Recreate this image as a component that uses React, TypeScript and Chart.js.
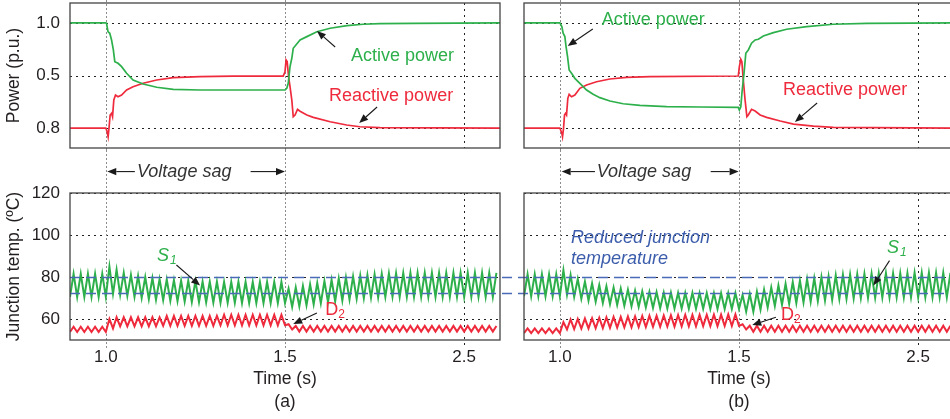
import React, { useEffect, useRef } from 'react';
import { Chart, registerables } from 'chart.js';

Chart.register(...registerables);

// ---------------- axes ----------------
const X_MIN = 0.9;
const X_MAX = 2.1;
const X_TICKS = [1.0, 1.5, 2.0];
const X_TICK_LABELS = ['1.0', '1.5', '2.5'];
const SAG_TIMES = [1.0, 1.5];

const POWER_MIN = -0.19;
const POWER_MAX = 1.19;
const POWER_TICKS = [0, 0.5, 1.0];
const POWER_TICK_LABELS = ['0.8', '0.5', '1.0'];

const TEMP_MIN = 50;
const TEMP_MAX = 120;
const TEMP_TICKS = [60, 80, 100, 120];
const TEMP_TICK_LABELS = ['60', '80', '100', '120'];
const REF_LEVELS = [80, 72.5];

// ---------------- power, case (a) ----------------
const ACTIVE_A_T = [0.9, 1.0, 1.002, 1.006, 1.011, 1.016, 1.021, 1.025, 1.034, 1.044, 1.058, 1.076, 1.104, 1.142, 1.188, 1.263, 1.5, 1.505, 1.509, 1.514, 1.519, 1.523, 1.542, 1.561, 1.589, 1.626, 1.673, 1.718, 1.765, 1.858, 2.1];
const ACTIVE_A_V = [1.0, 1.0, 0.997, 0.917, 0.902, 0.838, 0.743, 0.632, 0.616, 0.584, 0.521, 0.457, 0.419, 0.388, 0.368, 0.362, 0.362, 0.378, 0.426, 0.584, 0.664, 0.759, 0.838, 0.87, 0.917, 0.95, 0.974, 0.988, 0.993, 0.997, 1.0];
const REACTIVE_A_T = [0.9, 1.0, 1.0036, 1.0064, 1.0092, 1.012, 1.016, 1.0187, 1.0223, 1.027, 1.034, 1.044, 1.058, 1.076, 1.104, 1.142, 1.188, 1.263, 1.356, 1.495, 1.5, 1.503, 1.506, 1.51, 1.514, 1.519, 1.523, 1.528, 1.535, 1.542, 1.561, 1.579, 1.626, 1.672, 1.709, 1.765, 2.1];
const REACTIVE_A_V = [0, 0, -0.035, -0.083, 0.012, 0.124, 0.14, 0.108, 0.267, 0.314, 0.298, 0.314, 0.362, 0.393, 0.426, 0.457, 0.479, 0.489, 0.495, 0.495, 0.536, 0.648, 0.632, 0.489, 0.393, 0.267, 0.108, 0.124, 0.178, 0.16, 0.124, 0.102, 0.06, 0.029, 0.012, 0.003, 0];

// ---------------- power, case (b) ----------------
const ACTIVE_B_T = [0.9, 1.0, 1.0056, 1.0092, 1.014, 1.0168, 1.0215, 1.026, 1.0327, 1.0419, 1.0559, 1.0746, 1.093, 1.1117, 1.1397, 1.1768, 1.2235, 1.298, 1.391, 1.498, 1.501, 1.505, 1.509, 1.514, 1.519, 1.526, 1.535, 1.545, 1.554, 1.568, 1.596, 1.633, 1.689, 1.763, 1.857, 2.1];
const ACTIVE_B_V = [1.0, 1.0, 0.965, 0.902, 0.87, 0.79, 0.679, 0.552, 0.521, 0.473, 0.426, 0.362, 0.321, 0.289, 0.257, 0.231, 0.216, 0.203, 0.2, 0.197, 0.171, 0.203, 0.362, 0.521, 0.711, 0.743, 0.807, 0.838, 0.845, 0.876, 0.908, 0.94, 0.965, 0.988, 0.997, 1.0];
const REACTIVE_B_T = [0.9, 1.0, 1.0056, 1.0075, 1.0103, 1.0131, 1.0159, 1.0187, 1.0223, 1.026, 1.0327, 1.0419, 1.0559, 1.0746, 1.1025, 1.1397, 1.1863, 1.2514, 1.498, 1.501, 1.505, 1.508, 1.512, 1.517, 1.522, 1.526, 1.535, 1.545, 1.559, 1.577, 1.615, 1.652, 1.708, 1.763, 2.1];
const REACTIVE_B_V = [0, 0, -0.05, -0.083, -0.003, 0.124, 0.14, 0.124, 0.283, 0.321, 0.298, 0.314, 0.378, 0.41, 0.441, 0.467, 0.483, 0.489, 0.495, 0.584, 0.654, 0.632, 0.457, 0.267, 0.108, 0.124, 0.178, 0.162, 0.124, 0.102, 0.067, 0.038, 0.019, 0.006, 0];

// ---------------- junction temperature, one trough & peak per 20 ms cycle ----------------
const CYCLE_START = 0.9;
const CYCLE_PERIOD = 0.02;

const S1_A_PEAK = [
  81.5, 81.5, 81.5, 81.5, 81.5, 85.0, 83.5, 82.0, 81.0, 80.5,
  80.0, 79.5, 79.0, 78.8, 78.5, 78.3, 78.2, 78.0, 77.8, 77.8,
  77.8, 77.7, 77.7, 77.7, 77.6, 77.6, 77.6, 77.6, 77.6, 77.6,
  74.5, 75.0, 75.8, 76.5, 77.2, 78.0, 78.7, 79.3, 79.8, 80.3,
  80.7, 81.0, 81.3, 81.5, 81.7, 81.8, 81.9, 82.0, 82.0, 82.0,
  82.0, 82.0, 82.0, 82.0, 82.0, 82.0, 82.0, 82.0, 82.0, 82.0,
];
const S1_A_TROUGH = [
  70.5, 70.5, 70.5, 70.5, 70.5, 70.5, 72.0, 71.5, 71.0, 70.5,
  70.0, 69.5, 69.2, 69.0, 68.7, 68.5, 68.3, 68.1, 68.0, 67.9,
  67.8, 67.7, 67.7, 67.7, 67.6, 67.6, 67.6, 67.6, 67.6, 67.6,
  67.6, 65.8, 66.0, 66.5, 67.0, 67.5, 68.0, 68.4, 68.8, 69.2,
  69.6, 69.9, 70.1, 70.3, 70.5, 70.5, 70.5, 70.5, 70.5, 70.5,
  70.5, 70.5, 70.5, 70.5, 70.5, 70.5, 70.5, 70.5, 70.5, 70.5,
];
const D2_A_PEAK = [
  56.3, 56.3, 56.3, 56.3, 56.3, 60.0, 60.8, 60.8, 60.8, 60.8,
  60.8, 60.8, 60.8, 61.5, 61.5, 61.5, 61.5, 61.5, 61.5, 61.5,
  61.5, 62.0, 62.0, 62.0, 62.0, 62.0, 62.0, 62.0, 62.0, 62.0,
  57.5, 56.7, 56.7, 56.7, 56.7, 56.7, 56.7, 56.7, 56.7, 56.7,
  56.7, 56.7, 56.7, 56.7, 56.7, 56.7, 56.7, 56.7, 56.7, 56.7,
  56.7, 56.7, 56.7, 56.7, 56.7, 56.7, 56.7, 56.7, 56.7, 56.7,
];
const D2_A_TROUGH = [
  53.8, 53.8, 53.8, 53.8, 53.8, 53.8, 55.5, 56.5, 56.5, 56.5,
  56.5, 56.5, 56.5, 56.8, 56.8, 56.8, 56.8, 56.8, 56.8, 56.8,
  56.8, 57.0, 57.0, 57.0, 57.0, 57.0, 57.0, 57.0, 57.0, 57.0,
  57.0, 55.0, 54.0, 54.0, 54.0, 54.0, 54.0, 54.0, 54.0, 54.0,
  54.0, 54.0, 54.0, 54.0, 54.0, 54.0, 54.0, 54.0, 54.0, 54.0,
  54.0, 54.0, 54.0, 54.0, 54.0, 54.0, 54.0, 54.0, 54.0, 54.0,
];
const S1_B_PEAK = [
  81.3, 81.3, 81.3, 81.3, 81.3, 83.3, 81.0, 79.0, 77.8, 77.0,
  76.2, 75.6, 75.0, 74.5, 74.0, 73.5, 73.2, 73.0, 72.8, 72.6,
  72.6, 72.5, 72.5, 72.5, 72.4, 72.4, 72.4, 72.4, 72.4, 72.4,
  71.5, 72.0, 73.0, 74.0, 75.0, 76.0, 76.8, 77.6, 78.3, 79.0,
  79.5, 80.0, 80.4, 80.8, 81.1, 81.3, 81.4, 81.5, 81.6, 81.7,
  81.8, 81.8, 81.9, 81.9, 82.0, 82.0, 82.0, 82.0, 82.0, 82.0,
];
const S1_B_TROUGH = [
  70.8, 70.8, 70.8, 70.8, 70.8, 70.8, 71.5, 70.5, 69.6, 68.8,
  68.2, 67.6, 67.1, 66.7, 66.3, 66.0, 65.7, 65.5, 65.3, 65.1,
  65.0, 65.0, 65.0, 64.9, 64.9, 64.9, 64.8, 64.8, 64.8, 64.8,
  64.8, 63.5, 63.5, 64.5, 65.5, 66.2, 66.8, 67.2, 67.6, 67.9,
  68.2, 68.5, 68.8, 69.1, 69.4, 69.6, 69.8, 69.9, 70.0, 70.1,
  70.2, 70.2, 70.3, 70.3, 70.3, 70.3, 70.3, 70.3, 70.3, 70.3,
];
const D2_B_PEAK = [
  55.5, 55.5, 55.5, 55.5, 55.5, 58.5, 59.8, 60.0, 60.2, 60.4,
  60.6, 60.8, 61.0, 61.0, 61.2, 61.2, 61.4, 61.5, 61.6, 61.7,
  61.8, 61.9, 62.0, 62.0, 62.0, 62.0, 62.1, 62.1, 62.2, 62.2,
  57.5, 56.8, 56.8, 56.8, 56.8, 56.8, 56.8, 56.8, 56.8, 56.8,
  56.8, 56.8, 56.8, 56.8, 56.8, 56.8, 56.8, 56.8, 56.8, 56.8,
  56.8, 56.8, 56.8, 56.8, 56.8, 56.8, 56.8, 56.8, 56.8, 56.8,
];
const D2_B_TROUGH = [
  53.3, 53.3, 53.3, 53.3, 53.3, 53.3, 55.0, 55.2, 55.4, 55.5,
  55.6, 55.7, 55.8, 55.9, 56.0, 56.0, 56.2, 56.2, 56.3, 56.3,
  56.4, 56.4, 56.5, 56.5, 56.5, 56.6, 56.6, 56.6, 56.7, 56.7,
  56.7, 55.0, 53.9, 53.9, 53.9, 53.9, 53.9, 53.9, 53.9, 53.9,
  53.9, 53.9, 53.9, 53.9, 53.9, 53.9, 53.9, 53.9, 53.9, 53.9,
  53.9, 53.9, 53.9, 53.9, 53.9, 53.9, 53.9, 53.9, 53.9, 53.9,
];

// ---------------- styles & layout ----------------
const FONT = "'Liberation Sans', Arial, Helvetica, sans-serif";
const TEXT = '#231f20';
const GREEN = '#2db04b';
const RED = '#ee2a3c';
const BLUE_LINE = '#4a6cb8';
const BLUE_TEXT = '#3c5dab';
const GRID = '#222222';
const SAG_GRAY = '#8c8c8c';
const BORDER = '#444444';

const PAGE_W = 950;
const PAGE_H = 419;
const A_LEFT = 0;
const A_W = 501;
const B_LEFT = 501;
const B_W = 453;
const TOP_H = 150;
const BOT_TOP = 150;
const BOT_H = 269;
const A_PLOT_LEFT = 70;

type Part = { text: string; size: number; italic?: boolean; dy?: number };
type Note =
  | { kind: 'text'; x: number; y: number; color: string; parts: Part[] }
  | { kind: 'arrow'; x1: number; y1: number; x2: number; y2: number };

const t = (text: string, size = 18, italic = false, dy = 0): Part => ({ text, size, italic, dy });

const NOTES_A_TOP: Note[] = [
  { kind: 'text', x: 1.684, y: 0.69, color: GREEN, parts: [t('Active power')] },
  { kind: 'arrow', x1: 1.64, y1: 0.771, x2: 1.589, y2: 0.924 },
  { kind: 'text', x: 1.623, y: 0.3, color: RED, parts: [t('Reactive power')] },
  { kind: 'arrow', x1: 1.757, y1: 0.2, x2: 1.707, y2: 0.048 },
];
const NOTES_B_TOP: Note[] = [
  { kind: 'text', x: 1.117, y: 1.025, color: GREEN, parts: [t('Active power')] },
  { kind: 'arrow', x1: 1.092, y1: 0.943, x2: 1.022, y2: 0.781 },
  { kind: 'text', x: 1.623, y: 0.362, color: RED, parts: [t('Reactive power')] },
  { kind: 'arrow', x1: 1.718, y1: 0.238, x2: 1.656, y2: 0.057 },
];
const NOTES_A_BOT: Note[] = [
  { kind: 'text', x: 1.087, y: 130, color: '#333333', parts: [t('Voltage sag', 18, true)] },
  { kind: 'arrow', x1: 1.081, y1: 130.2, x2: 1.004, y2: 130.2 },
  { kind: 'arrow', x1: 1.404, y1: 130.2, x2: 1.5, y2: 130.2 },
  { kind: 'text', x: 1.143, y: 90.1, color: GREEN, parts: [t('S', 18, true), t('1', 12, true, 5)] },
  { kind: 'arrow', x1: 1.197, y1: 85.7, x2: 1.263, y2: 75.9 },
  { kind: 'text', x: 1.612, y: 64.4, color: RED, parts: [t('D', 18), t('2', 12, false, 5)] },
  { kind: 'arrow', x1: 1.589, y1: 62.9, x2: 1.523, y2: 57.6 },
];
const NOTES_B_BOT: Note[] = [
  { kind: 'text', x: 1.103, y: 130, color: '#333333', parts: [t('Voltage sag', 18, true)] },
  { kind: 'arrow', x1: 1.098, y1: 130.2, x2: 1.005, y2: 130.2 },
  { kind: 'arrow', x1: 1.421, y1: 130.2, x2: 1.499, y2: 130.2 },
  { kind: 'text', x: 1.031, y: 98.8, color: BLUE_TEXT, parts: [t('Reduced junction', 18, true)] },
  { kind: 'text', x: 1.031, y: 88.8, color: BLUE_TEXT, parts: [t('temperature', 18, true)] },
  { kind: 'text', x: 1.913, y: 93.8, color: GREEN, parts: [t('S', 18, true), t('1', 12, true, 5)] },
  { kind: 'arrow', x1: 1.92, y1: 87.8, x2: 1.875, y2: 75.9 },
  { kind: 'text', x: 1.617, y: 62.0, color: RED, parts: [t('D', 18), t('2', 12, false, 5)] },
  { kind: 'arrow', x1: 1.603, y1: 60.8, x2: 1.537, y2: 57.1 },
];

// ---------------- helpers ----------------
const zip = (xs: number[], ys: number[]) => xs.map((x, i) => ({ x, y: ys[i] }));

const cycles = (trough: number[], peak: number[]) => {
  const pts: { x: number; y: number }[] = [];
  trough.forEach((v, k) => {
    const t0 = CYCLE_START + k * CYCLE_PERIOD;
    pts.push({ x: t0, y: v });
    pts.push({ x: t0 + CYCLE_PERIOD / 2, y: peak[k] });
  });
  return pts;
};

const lineSet = (data: { x: number; y: number }[], color: string, width: number) => ({
  data,
  borderColor: color,
  backgroundColor: color,
  borderWidth: width,
  pointRadius: 0,
  tension: 0,
  fill: false,
});

function drawArrow(ctx: CanvasRenderingContext2D, x1: number, y1: number, x2: number, y2: number) {
  const ang = Math.atan2(y2 - y1, x2 - x1);
  const L = 9;
  const W = 3.6;
  const bx = x2 - L * Math.cos(ang);
  const by = y2 - L * Math.sin(ang);
  ctx.setLineDash([]);
  ctx.strokeStyle = '#1a1a1a';
  ctx.fillStyle = '#1a1a1a';
  ctx.lineWidth = 1.1;
  ctx.beginPath();
  ctx.moveTo(x1, y1);
  ctx.lineTo(bx, by);
  ctx.stroke();
  ctx.beginPath();
  ctx.moveTo(x2, y2);
  ctx.lineTo(bx + W * Math.sin(ang), by - W * Math.cos(ang));
  ctx.lineTo(bx - W * Math.sin(ang), by + W * Math.cos(ang));
  ctx.closePath();
  ctx.fill();
}

interface DecorSpec {
  hGrid: number[];
  vGridExtend: number;
  sagToCanvasBottom: boolean;
  ref?: { from: 'area' | 'canvas'; to: 'area' | 'canvas'; dashOffset: number };
  notes: Note[];
}

function decor(spec: DecorSpec) {
  return {
    id: 'decor',
    beforeDatasetsDraw(chart: any) {
      const { ctx, chartArea: a, scales } = chart;
      const x = scales.x;
      const y = scales.y;
      ctx.save();
      ctx.lineWidth = 1;
      ctx.strokeStyle = GRID;
      ctx.setLineDash([2, 4]);
      for (const v of spec.hGrid) {
        const py = Math.round(y.getPixelForValue(v)) + 0.5;
        ctx.beginPath();
        ctx.moveTo(a.left, py);
        ctx.lineTo(a.right, py);
        ctx.stroke();
      }
      for (const v of X_TICKS) {
        if (SAG_TIMES.includes(v)) continue;
        const px = Math.round(x.getPixelForValue(v)) + 0.5;
        ctx.beginPath();
        ctx.moveTo(px, a.top);
        ctx.lineTo(px, a.bottom + spec.vGridExtend);
        ctx.stroke();
      }
      ctx.strokeStyle = SAG_GRAY;
      ctx.setLineDash([2, 2]);
      for (const v of SAG_TIMES) {
        const px = Math.round(x.getPixelForValue(v)) + 0.5;
        ctx.beginPath();
        ctx.moveTo(px, 0);
        ctx.lineTo(px, spec.sagToCanvasBottom ? chart.height : a.bottom + 10);
        ctx.stroke();
      }
      ctx.restore();
    },
    afterDatasetsDraw(chart: any) {
      const { ctx, chartArea: a, scales } = chart;
      const x = scales.x;
      const y = scales.y;
      ctx.save();
      if (spec.ref) {
        ctx.strokeStyle = BLUE_LINE;
        ctx.lineWidth = 1.6;
        ctx.setLineDash([10, 6]);
        ctx.lineDashOffset = spec.ref.dashOffset;
        const x0 = spec.ref.from === 'area' ? a.left : 0;
        const x1 = spec.ref.to === 'area' ? a.right : chart.width;
        for (const v of REF_LEVELS) {
          const py = Math.round(y.getPixelForValue(v)) + 0.5;
          ctx.beginPath();
          ctx.moveTo(x0, py);
          ctx.lineTo(x1, py);
          ctx.stroke();
        }
        ctx.lineDashOffset = 0;
      }
      ctx.setLineDash([]);
      ctx.strokeStyle = BORDER;
      ctx.lineWidth = 1.3;
      ctx.strokeRect(a.left, a.top, a.right - a.left, a.bottom - a.top);
      for (const n of spec.notes) {
        if (n.kind === 'arrow') {
          drawArrow(ctx, x.getPixelForValue(n.x1), y.getPixelForValue(n.y1), x.getPixelForValue(n.x2), y.getPixelForValue(n.y2));
        } else {
          let cx = x.getPixelForValue(n.x);
          const cy = y.getPixelForValue(n.y);
          ctx.fillStyle = n.color;
          ctx.textBaseline = 'middle';
          ctx.textAlign = 'left';
          for (const p of n.parts) {
            ctx.font = `${p.italic ? 'italic ' : ''}${p.size}px ${FONT}`;
            ctx.fillText(p.text, cx, cy + (p.dy || 0));
            cx += ctx.measureText(p.text).width + (p.italic ? 1 : 0);
          }
        }
      }
      ctx.restore();
    },
  };
}

const yAxis = (show: boolean, min: number, max: number, ticks: number[], labels: string[], title: string) => ({
  type: 'linear',
  display: show,
  min,
  max,
  afterBuildTicks: (s: any) => {
    s.ticks = ticks.map((v) => ({ value: v }));
  },
  afterFit: (s: any) => {
    s.width = show ? A_PLOT_LEFT : 0;
    s.paddingTop = 0;
    s.paddingBottom = 0;
  },
  grid: { display: false, drawTicks: false },
  border: { display: false },
  ticks: {
    autoSkip: false,
    padding: 10,
    color: TEXT,
    font: { size: 17, family: FONT },
    callback: (_v: any, i: number) => labels[i],
  },
  title: {
    display: show,
    text: title,
    color: TEXT,
    font: { size: 17.5, family: FONT },
    padding: { top: 4, bottom: 0 },
  },
});

function powerConfig(isA: boolean) {
  return {
    type: 'line',
    data: {
      datasets: [
        lineSet(zip(isA ? ACTIVE_A_T : ACTIVE_B_T, isA ? ACTIVE_A_V : ACTIVE_B_V), GREEN, 1.7),
        lineSet(zip(isA ? REACTIVE_A_T : REACTIVE_B_T, isA ? REACTIVE_A_V : REACTIVE_B_V), RED, 1.7),
      ],
    },
    options: {
      animation: false,
      responsive: false,
      events: [],
      layout: { padding: isA ? { left: 0, top: 3, right: 1, bottom: 2 } : { left: 23, top: 3, right: 0, bottom: 2 } },
      plugins: { legend: { display: false }, tooltip: { enabled: false } },
      scales: {
        x: {
          type: 'linear',
          min: X_MIN,
          max: X_MAX,
          display: false,
          afterFit: (s: any) => {
            s.height = 0;
            s.paddingLeft = 0;
            s.paddingRight = 0;
          },
        },
        y: yAxis(isA, POWER_MIN, POWER_MAX, POWER_TICKS, POWER_TICK_LABELS, 'Power (p.u.)'),
      },
    },
    plugins: [
      decor({
        hGrid: POWER_TICKS,
        vGridExtend: 0,
        sagToCanvasBottom: true,
        notes: isA ? NOTES_A_TOP : NOTES_B_TOP,
      }),
    ],
  };
}

function tempConfig(isA: boolean) {
  return {
    type: 'line',
    data: {
      datasets: [
        lineSet(cycles(isA ? S1_A_TROUGH : S1_B_TROUGH, isA ? S1_A_PEAK : S1_B_PEAK), GREEN, 2),
        lineSet(cycles(isA ? D2_A_TROUGH : D2_B_TROUGH, isA ? D2_A_PEAK : D2_B_PEAK), RED, 2),
      ],
    },
    options: {
      animation: false,
      responsive: false,
      events: [],
      layout: { padding: isA ? { left: 0, top: 43, right: 1, bottom: 0 } : { left: 23, top: 43, right: 0, bottom: 0 } },
      plugins: { legend: { display: false }, tooltip: { enabled: false } },
      scales: {
        x: {
          type: 'linear',
          min: X_MIN,
          max: X_MAX,
          afterBuildTicks: (s: any) => {
            s.ticks = X_TICKS.map((v) => ({ value: v }));
          },
          afterFit: (s: any) => {
            s.height = 79;
            s.paddingLeft = 0;
            s.paddingRight = 0;
          },
          grid: { display: false, drawTicks: false },
          border: { display: false },
          ticks: {
            autoSkip: false,
            maxRotation: 0,
            padding: 7,
            color: TEXT,
            font: { size: 17, family: FONT },
            callback: (_v: any, i: number) => X_TICK_LABELS[i],
          },
          title: {
            display: true,
            text: ['Time (s)', isA ? '(a)' : '(b)'],
            color: TEXT,
            font: { size: 17.5, family: FONT, lineHeight: 1.314 },
            padding: { top: 0, bottom: 5.5 },
          },
        },
        y: yAxis(isA, TEMP_MIN, TEMP_MAX, TEMP_TICKS, TEMP_TICK_LABELS, 'Junction temp. (ºC)'),
      },
    },
    plugins: [
      decor({
        hGrid: TEMP_TICKS,
        vGridExtend: 5,
        sagToCanvasBottom: false,
        ref: isA
          ? { from: 'area', to: 'canvas', dashOffset: 0 }
          : { from: 'canvas', to: 'area', dashOffset: B_LEFT - A_PLOT_LEFT },
        notes: isA ? NOTES_A_BOT : NOTES_B_BOT,
      }),
    ],
  };
}

function Panel({ left, top, width, height, build }: { left: number; top: number; width: number; height: number; build: () => any }) {
  const ref = useRef<HTMLCanvasElement>(null);
  useEffect(() => {
    const chart = new Chart(ref.current as HTMLCanvasElement, build());
    return () => chart.destroy();
  }, []);
  return (
    <canvas
      ref={ref}
      width={width}
      height={height}
      style={{ position: 'absolute', left, top, width, height, display: 'block' }}
    />
  );
}

export default function App() {
  return (
    <div
      style={{
        position: 'fixed',
        left: 0,
        top: 0,
        width: PAGE_W,
        height: PAGE_H,
        overflow: 'hidden',
        background: '#ffffff',
      }}
    >
      <Panel left={A_LEFT} top={0} width={A_W} height={TOP_H} build={() => powerConfig(true)} />
      <Panel left={B_LEFT} top={0} width={B_W} height={TOP_H} build={() => powerConfig(false)} />
      <Panel left={A_LEFT} top={BOT_TOP} width={A_W} height={BOT_H} build={() => tempConfig(true)} />
      <Panel left={B_LEFT} top={BOT_TOP} width={B_W} height={BOT_H} build={() => tempConfig(false)} />
    </div>
  );
}
